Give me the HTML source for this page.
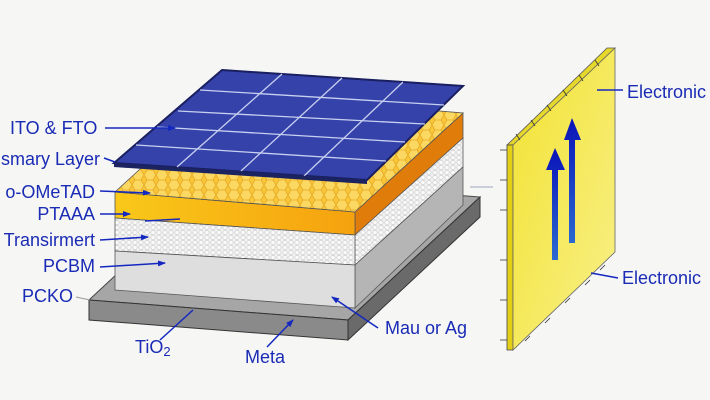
<!DOCTYPE html>
<html><head><meta charset="utf-8"><style>
html,body{margin:0;padding:0;background:#f6f6f5;}
svg{display:block;font-family:"Liberation Sans",sans-serif;}
</style></head><body>
<svg width="710" height="400" viewBox="0 0 710 400" xmlns="http://www.w3.org/2000/svg">
<defs>
<pattern id="hexY" width="12" height="10" patternUnits="userSpaceOnUse">
<rect width="12" height="10" fill="#f7c63a"/>
<path d="M3 0 L9 0 L12 5 L9 10 L3 10 L0 5Z" fill="#fbd862" stroke="#e9a920" stroke-width="0.8"/>
</pattern>
<pattern id="hexW" width="6" height="5" patternUnits="userSpaceOnUse">
<rect width="6" height="5" fill="#f2f2f2"/>
<circle cx="3" cy="2.5" r="2.2" fill="#fafafa" stroke="#b9b9b9" stroke-width="0.5"/>
</pattern>
<linearGradient id="org" x1="0" x2="1"><stop offset="0" stop-color="#f9c81a"/><stop offset="1" stop-color="#f6a20e"/></linearGradient>
<linearGradient id="yel" x1="0" x2="1" y1="0" y2="1"><stop offset="0" stop-color="#f2e231"/><stop offset="1" stop-color="#f8f08a"/></linearGradient>
<linearGradient id="arr" x1="0" x2="0" y1="0" y2="1"><stop offset="0" stop-color="#0a12b8"/><stop offset="1" stop-color="#2a6ad0"/></linearGradient>
<marker id="ah" markerWidth="8" markerHeight="8" refX="7" refY="4" orient="auto" markerUnits="userSpaceOnUse"><path d="M0 1 L8 4 L0 7Z" fill="#1428c0"/></marker>
</defs>
<rect width="710" height="400" fill="#f6f6f5"/>
<polygon points="89,300 221,177 480,197 348,320" fill="#a6a6a6" stroke="#444" stroke-width="1"/>
<polygon points="89,300 348,320 348,340 89,320" fill="#8a8a8a" stroke="#333" stroke-width="1"/>
<polygon points="348,320 480,197 480,217 348,340" fill="#6a6a6a" stroke="#333" stroke-width="1"/>
<polygon points="355,212 463,113 463,138 355,235" fill="#e07c0a" stroke="#555" stroke-width="0.8"/>
<polygon points="355,235 463,138 463,167 355,265" fill="url(#hexW)" stroke="#555" stroke-width="0.8"/>
<polygon points="355,265 463,167 463,205 355,308" fill="#b5b5b5" stroke="#555" stroke-width="0.8"/>
<polygon points="115,192 355,212 355,235 115,218" fill="url(#org)" stroke="#555" stroke-width="0.8"/>
<polygon points="115,218 355,235 355,265 115,251" fill="url(#hexW)" stroke="#555" stroke-width="0.8"/>
<polygon points="115,251 355,265 355,308 115,290" fill="#dedede" stroke="#555" stroke-width="0.8"/>
<polygon points="115,192 223,93 463,113 355,212" fill="url(#hexY)" stroke="#555" stroke-width="0.8"/>
<polygon points="222,70 463,86 367,180 114,163" fill="#3442aa" stroke="#1a1f60" stroke-width="2"/>
<g stroke="#c8d0f0" stroke-width="1.3" fill="none">
<line x1="282" y1="74" x2="177" y2="167"/>
<line x1="342" y1="78" x2="241" y2="171"/>
<line x1="403" y1="82" x2="304" y2="176"/>
<line x1="200" y1="90" x2="444" y2="105"/>
<line x1="178" y1="111" x2="425" y2="124"/>
<line x1="157" y1="127" x2="405" y2="142"/>
<line x1="136" y1="145" x2="386" y2="161"/>
</g>
<polygon points="114,163 367,180 367,184 114,167" fill="#1b2460"/>
<polygon points="507,145 607,48 615,48 513,145" fill="#e6d82a" stroke="#555" stroke-width="0.8"/>
<polygon points="507,145 513,145 513,350 507,350" fill="#e3cf18" stroke="#444" stroke-width="0.8"/>
<polygon points="513,145 615,48 615,252 513,350" fill="url(#yel)" stroke="#666" stroke-width="0.8"/>
<g stroke="#333" stroke-width="0.8">
<path d="M520 140 l-4 -6 M535 126 l-4 -6 M551 111 l-4 -6 M567 96 l-4 -6 M583 81 l-4 -6 M599 66 l-4 -6"/>
<path d="M500 150 h7 M500 180 h7 M500 210 h7 M500 260 h7 M500 300 h7 M500 340 h7"/>
<path d="M530 336 l-5 5 M550 318 l-5 5 M570 298 l-5 5 M590 280 l-5 5 M605 265 l-5 5"/>
</g>
<polygon points="552,260 558,260 558,170 565,170 555,148 546,170 552,170" fill="url(#arr)"/>
<polygon points="569,243 575,243 575,140 581,140 572,118 564,140 569,140" fill="url(#arr)"/>
<line x1="470" y1="187" x2="493" y2="187" stroke="#b0b6c8" stroke-width="1.2"/>
<g stroke="#1428c0" stroke-width="1.5" fill="none">
<line x1="105" y1="128" x2="175" y2="128" marker-end="url(#ah)"/>
<line x1="104" y1="158" x2="115" y2="162"/>
<line x1="100" y1="191" x2="150" y2="193" marker-end="url(#ah)"/>
<line x1="100" y1="214" x2="130" y2="214" marker-end="url(#ah)"/>
<line x1="145" y1="221" x2="180" y2="219"/>
<line x1="100" y1="240" x2="148" y2="237" marker-end="url(#ah)"/>
<line x1="100" y1="267" x2="165" y2="263" marker-end="url(#ah)"/>
<line x1="160" y1="340" x2="193" y2="310"/>
<line x1="267" y1="347" x2="293" y2="320" marker-end="url(#ah)"/>
<line x1="378" y1="328" x2="332" y2="297" marker-end="url(#ah)"/>
<line x1="597" y1="90" x2="623" y2="90"/>
<line x1="591" y1="273" x2="618" y2="278"/>
</g>
<line x1="76" y1="297" x2="90" y2="300" stroke="#999" stroke-width="1"/>
<g fill="#1a2bb5" font-size="18">
<text x="10" y="134">ITO &amp; FTO</text>
<text x="100" y="165" text-anchor="end">nsmary Layer</text>
<text x="95" y="198" text-anchor="end">o-OMeTAD</text>
<text x="95" y="220" text-anchor="end">PTAAA</text>
<text x="95" y="246" text-anchor="end">Transirmert</text>
<text x="95" y="272" text-anchor="end">PCBM</text>
<text x="22" y="302">PCKO</text>
<text x="135" y="353">TiO<tspan font-size="13" dy="3">2</tspan></text>
<text x="245" y="363">Meta</text>
<text x="385" y="334">Mau or Ag</text>
<text x="627" y="98">Electronic</text>
<text x="622" y="284">Electronic</text>
</g>
</svg>
</body></html>
